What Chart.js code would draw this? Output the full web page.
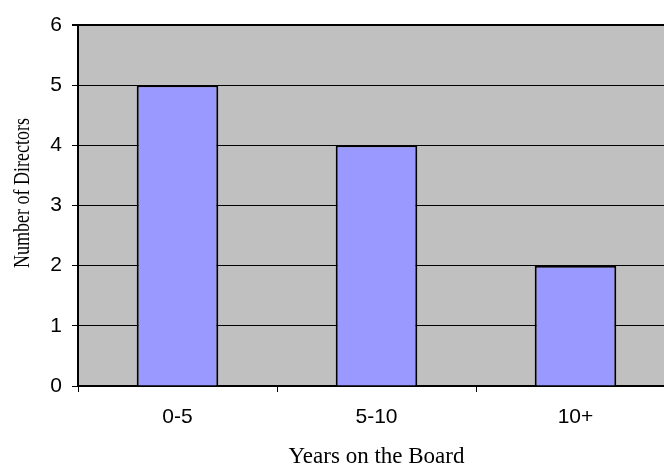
<!DOCTYPE html>
<html>
<head>
<meta charset="utf-8">
<script src="https://cdn.jsdelivr.net/npm/chart.js@4"></script>
<style>
html, body { margin:0; padding:0; overflow:hidden; background:#fff; }
#wrap { width:680px; height:468px; position:relative; }
</style>
</head>
<body>
<div id="wrap"><canvas id="c"></canvas></div>
<script>
const categories = ["0-5", "5-10", "10+"];
const directors = [5, 4, 2];
const yTicks = [0, 1, 2, 3, 4, 5, 6];
const yTitle = "Number of Directors";
const xTitle = "Years on the Board";

const plotBg = {
  id: 'plotBg',
  beforeDraw(chart) {
    const {ctx, chartArea: a} = chart;
    ctx.save();
    ctx.fillStyle = '#C0C0C0';
    ctx.fillRect(a.left, a.top, a.right - a.left, a.bottom - a.top);
    ctx.restore();
  }
};

const yTitlePlugin = {
  id: 'yTitlePlugin',
  afterDraw(chart) {
    const {ctx} = chart;
    ctx.save();
    ctx.translate(29, 193);
    ctx.rotate(-Math.PI / 2);
    ctx.scale(1, 1.3);
    ctx.font = '18px "Liberation Serif", "Times New Roman", serif';
    ctx.fillStyle = '#000';
    ctx.textAlign = 'center';
    ctx.textBaseline = 'alphabetic';
    ctx.fillText(yTitle, 0, 0);
    ctx.restore();
  }
};

new Chart(document.getElementById('c'), {
  type: 'bar',
  data: {
    labels: categories,
    datasets: [{
      data: directors,
      backgroundColor: '#9999FF',
      borderColor: '#000000',
      borderWidth: 2,
      barPercentage: 0.41,
      categoryPercentage: 1.0
    }]
  },
  options: {
    responsive: true,
    maintainAspectRatio: false,
    animation: false,
    devicePixelRatio: 1,
    layout: { padding: { top: 25, right: 5, left: 0, bottom: 0 } },
    plugins: { legend: { display: false }, tooltip: { enabled: false } },
    scales: {
      x: {
        offset: true,
        afterFit(s) { s.height = 82; },
        grid: { display: true, drawOnChartArea: false, drawTicks: true, tickLength: 6, color: '#000', offset: true },
        border: { display: true, color: '#000', width: 2 },
        ticks: { color: '#000', padding: 13, font: { family: '"Liberation Sans", Arial, sans-serif', size: 21 } },
        title: { display: true, text: xTitle, color: '#000',
                 font: { family: '"Liberation Serif", "Times New Roman", serif', size: 23, lineHeight: 1 },
                 padding: { top: 0, bottom: 0 } }
      },
      y: {
        min: 0, max: 6,
        afterFit(s) { s.width = 78; },
        afterBuildTicks(s) { s.ticks = yTicks.map(v => ({ value: v })); },
        grid: { color: '#000', lineWidth: c => (c.tick && c.tick.value === 6 ? 2 : 1), tickLength: 6, drawTicks: true },
        border: { display: true, color: '#000', width: 2 },
        ticks: { color: '#000', padding: 10, font: { family: '"Liberation Sans", Arial, sans-serif', size: 21 } },
        title: { display: false }
      }
    }
  },
  plugins: [plotBg, yTitlePlugin]
});
</script>
</body>
</html>
